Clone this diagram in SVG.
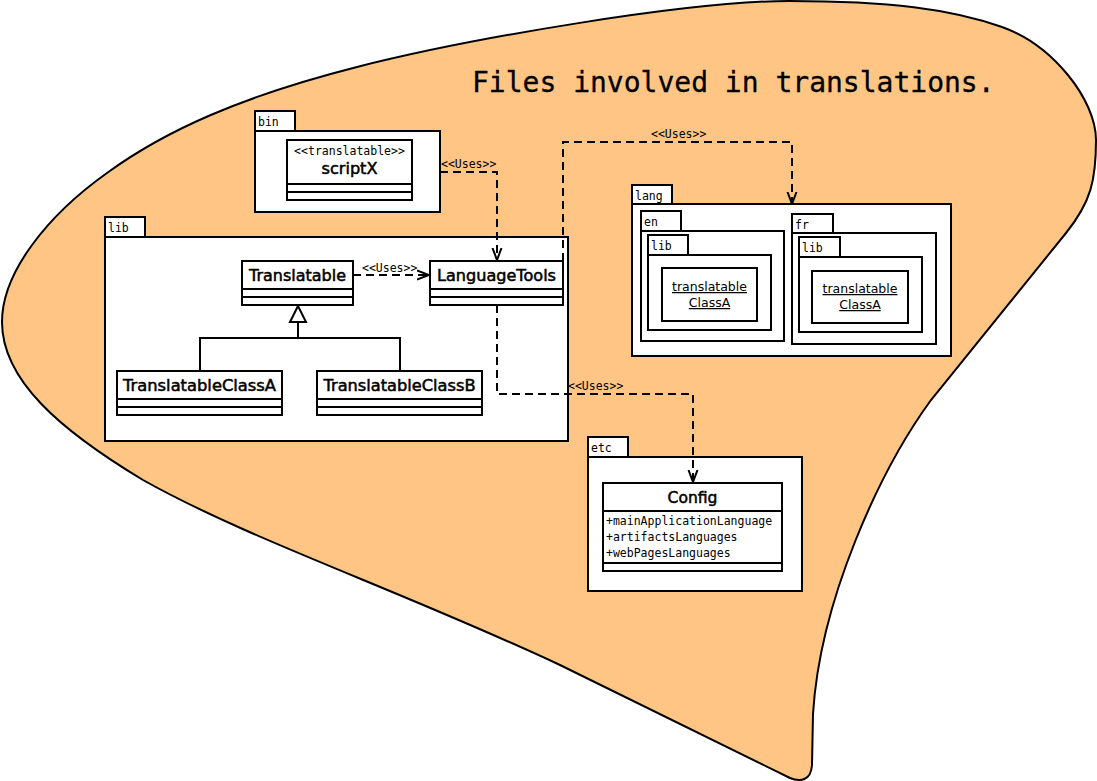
<svg xmlns="http://www.w3.org/2000/svg" width="1097" height="781" viewBox="0 0 1097 781">
<defs>
<style>
.box{fill:#fff;stroke:#000;stroke-width:2}
.ln{stroke:#000;stroke-width:2;fill:none}
.dash{stroke:#000;stroke-width:2;fill:none;stroke-dasharray:8,5}
.mono{font-family:"DejaVu Sans Mono","Liberation Mono",monospace;font-size:11.5px;fill:#000}
.cls{font-family:"DejaVu Sans","Liberation Sans",sans-serif;font-size:15.3px;fill:#000;stroke:#000;stroke-width:0.5;text-anchor:middle}
.obj{font-family:"DejaVu Sans","Liberation Sans",sans-serif;font-size:12.5px;fill:#000;text-anchor:middle;text-decoration:underline}
</style>
<marker id="open" viewBox="0 0 12 12" refX="12" refY="6" markerWidth="12" markerHeight="12" markerUnits="userSpaceOnUse" orient="auto">
<path d="M0,1.5 L12,6 L0,10.5" fill="none" stroke="#000" stroke-width="2"/>
</marker>
</defs>
<rect width="1097" height="781" fill="#fff"/>
<path id="blob" d="M2,322 C2,272 48,215 107,173 C166,130 243,96 357,67 C471,38 689,1 789,1 C889,1 951,9 1002,27 C1053,45 1096,100 1096,140 C1096,180 1091,202 1066,233 L931,400 C880,470 820,600 813,714 L812,765 C811,781 800,782 790,778 L560,665 C400,590 250,540 143,480 C60,430 2,380 2,322 Z" fill="#fec584" stroke="#000" stroke-width="2"/>
<text x="472" y="92" font-family="DejaVu Sans Mono, Liberation Mono, monospace" font-size="28" fill="#000" stroke="#000" stroke-width="0.3">Files involved in translations.</text>

<g id="pkg-bin">
<rect class="box" x="255" y="111" width="40" height="20"/>
<rect class="box" x="255" y="131" width="185" height="81"/>
<text class="mono" x="258" y="126">bin</text>
</g>
<g id="scriptX">
<rect class="box" x="287" y="140" width="125" height="60"/>
<line class="ln" x1="287" y1="184" x2="412" y2="184"/>
<line class="ln" x1="287" y1="192" x2="412" y2="192"/>
<text class="mono" x="349.5" y="155" text-anchor="middle">&lt;&lt;translatable&gt;&gt;</text>
<text class="cls" x="349.5" y="174" textLength="56" lengthAdjust="spacingAndGlyphs">scriptX</text>
</g>

<g id="pkg-lib">
<rect class="box" x="105" y="217" width="40" height="20"/>
<rect class="box" x="105" y="237" width="463" height="204"/>
<text class="mono" x="108" y="232">lib</text>
</g>
<g id="Translatable">
<rect class="box" x="242" y="261" width="111" height="44"/>
<line class="ln" x1="242" y1="289" x2="353" y2="289"/>
<line class="ln" x1="242" y1="297" x2="353" y2="297"/>
<text class="cls" x="297.5" y="281" textLength="97" lengthAdjust="spacingAndGlyphs">Translatable</text>
</g>
<g id="LanguageTools">
<rect class="box" x="430" y="261" width="133" height="44"/>
<line class="ln" x1="430" y1="289" x2="563" y2="289"/>
<line class="ln" x1="430" y1="297" x2="563" y2="297"/>
<text class="cls" x="496.5" y="281" textLength="119" lengthAdjust="spacingAndGlyphs">LanguageTools</text>
</g>
<g id="TranslatableClassA">
<rect class="box" x="117" y="371" width="165" height="44"/>
<line class="ln" x1="117" y1="399" x2="282" y2="399"/>
<line class="ln" x1="117" y1="407" x2="282" y2="407"/>
<text class="cls" x="199.5" y="391" textLength="153" lengthAdjust="spacingAndGlyphs">TranslatableClassA</text>
</g>
<g id="TranslatableClassB">
<rect class="box" x="317" y="371" width="165" height="44"/>
<line class="ln" x1="317" y1="399" x2="482" y2="399"/>
<line class="ln" x1="317" y1="407" x2="482" y2="407"/>
<text class="cls" x="399.5" y="391" textLength="152" lengthAdjust="spacingAndGlyphs">TranslatableClassB</text>
</g>

<g id="pkg-lang">
<rect class="box" x="632" y="185" width="40" height="19"/>
<rect class="box" x="632" y="204" width="319" height="152"/>
<text class="mono" x="635" y="200">lang</text>
</g>
<g id="pkg-en">
<rect class="box" x="641" y="211" width="40" height="20"/>
<rect class="box" x="641" y="231" width="143" height="110"/>
<text class="mono" x="644" y="226">en</text>
<rect class="box" x="648" y="235" width="40" height="20"/>
<rect class="box" x="648" y="255" width="123" height="75"/>
<text class="mono" x="651" y="250">lib</text>
</g>
<g id="en-ClassA">
<rect class="box" x="662" y="268" width="95" height="53"/>
<text class="obj" x="709.5" y="291">translatable</text>
<text class="obj" x="709.5" y="307">ClassA</text>
</g>
<g id="pkg-fr">
<rect class="box" x="792" y="214" width="41" height="19"/>
<rect class="box" x="792" y="233" width="144" height="111"/>
<text class="mono" x="795" y="229">fr</text>
<rect class="box" x="799" y="237" width="41" height="20"/>
<rect class="box" x="799" y="257" width="123" height="75"/>
<text class="mono" x="802" y="252">lib</text>
</g>
<g id="fr-ClassA">
<rect class="box" x="812" y="271" width="96" height="52"/>
<text class="obj" x="860" y="293">translatable</text>
<text class="obj" x="860" y="309">ClassA</text>
</g>

<g id="pkg-etc">
<rect class="box" x="588" y="437" width="40" height="20"/>
<rect class="box" x="588" y="457" width="214" height="134"/>
<text class="mono" x="591" y="452">etc</text>
</g>
<g id="Config">
<rect class="box" x="603" y="483" width="179" height="88"/>
<line class="ln" x1="603" y1="511" x2="782" y2="511"/>
<line class="ln" x1="603" y1="563" x2="782" y2="563"/>
<text class="cls" x="692.5" y="503" textLength="50" lengthAdjust="spacingAndGlyphs">Config</text>
<text class="mono" x="606" y="525">+mainApplicationLanguage</text>
<text class="mono" x="606" y="541">+artifactsLanguages</text>
<text class="mono" x="606" y="557">+webPagesLanguages</text>
</g>

<g id="connectors">
<path class="dash" d="M440,172 H497 V260" marker-end="url(#open)"/>
<text class="mono" x="441" y="168">&lt;&lt;Uses&gt;&gt;</text>
<path class="dash" d="M353,275 H429" marker-end="url(#open)"/>
<text class="mono" x="362" y="272">&lt;&lt;Uses&gt;&gt;</text>
<path class="dash" d="M563,261 V142 H792 V204" marker-end="url(#open)"/>
<text class="mono" x="651" y="138">&lt;&lt;Uses&gt;&gt;</text>
<path class="dash" d="M497,305 V394 H693 V482" marker-end="url(#open)"/>
<text class="mono" x="568" y="390">&lt;&lt;Uses&gt;&gt;</text>
<polygon points="298,306 290,322 306,322" fill="#fff" stroke="#000" stroke-width="2"/>
<path class="ln" d="M298,322 V338 M200,371 V338 H400 V371"/>
</g>
</svg>
